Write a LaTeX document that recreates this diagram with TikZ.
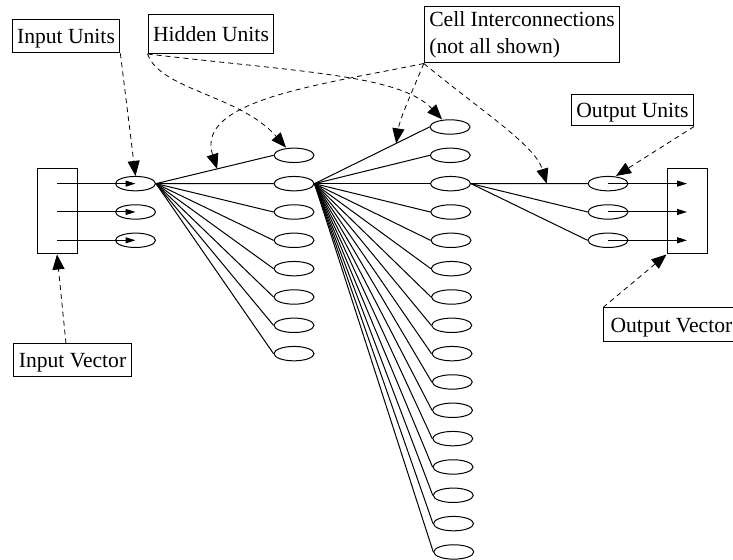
\documentclass[tikz,border=0pt]{standalone}
\usepackage{fontspec}
\setmainfont{Liberation Serif}
\usetikzlibrary{shapes.geometric,arrows.meta}
\begin{document}
\begin{tikzpicture}[x=0.5pt,y=-0.5pt,line width=0.5pt,
	unit/.style={draw,ellipse,minimum width=20pt,minimum height=7.2pt,inner sep=0pt},
	vecbox/.style={draw,minimum width=20pt,minimum height=42.5pt,inner sep=0pt},
	boxed/.style={draw,font=\fontsize{10.8}{13.5}\selectfont,inner xsep=2.5pt,inner ysep=0pt},
	tag/.style={boxed,text height=7.3pt,text depth=0pt,minimum height=16.5pt},
	callout/.style={dash pattern=on 2.5pt off 2pt,line width=0.4pt,-{Triangle[length=7.5pt,width=6pt]}},
	feed/.style={-{Triangle[length=5pt,width=3pt]}}]
	\useasboundingbox (0,0) rectangle (733,560);
	\clip (0,0) rectangle (733,560);
	
	\node[vecbox] (invec) at (57,211.5) {};
	\node[vecbox] (outvec) at (687,211.5) {};
	\foreach \i in {1,2,3} {
		\node[unit] (in\i) at (135.5,155.3+28.33*\i) {};
		\node[unit] (out\i) at (608,155.3+28.33*\i) {};
	}
	\foreach \i in {1,...,8}
		\node[unit] (hone\i) at (294,127+28.33*\i) {};
	\foreach \i in {1,...,16}
		\node[unit] (htwo\i) at (449.75+0.25*\i,98.67+28.33*\i) {};
	
	\foreach \i in {1,2,3} {
		\draw[feed] (invec.center |- in\i) -- (in\i.center);
		\draw[feed] (out\i.center) -- (outvec.center |- out\i);
		\draw (htwo3.east) -- (out\i.west);
	}
	\foreach \i in {1,...,8}
		\draw (in1.east) -- (hone\i.west);
	\foreach \i in {1,...,16}
		\draw (hone2.east) -- (htwo\i.west);
	
	\path (in1.east) -- (hone1.west) coordinate[pos=0.52] (tipa);
	\path (hone2.east) -- (htwo1.west) coordinate[pos=0.71] (tipb);
	\path (htwo3.east) -- (out1.west) coordinate[pos=0.65] (tipc);
	
	\node[tag] (inunits) at (66,36.5) {Input Units};
	\node[tag,minimum height=19.5pt] (hidunits) at (211,34) {Hidden Units};
	\node[boxed,align=left,minimum height=28pt] (cellint) at (522,35) {Cell Interconnections\\(not all shown)};
	\node[tag,minimum height=15.5pt] (outunits) at (632.5,110.5) {Output Units};
	\node[tag,minimum height=17pt,inner xsep=3.5pt,anchor=west] (outvector) at (603,325) {Output Vector};
	\node[tag] (invector) at (72.5,360.5) {Input Vector};
	
	\draw[callout] (inunits.south east) -- (in1.north);
	\draw[callout] (hidunits.south west) .. controls (160,90) and (240,95) .. ([xshift=-4pt]hone1.north);
	\draw[callout] (hidunits.south west) .. controls (300,72) and (400,75) .. ([xshift=-4pt]htwo1.north);
	\draw[callout] (cellint.south west) .. controls (320,85) and (195,100) .. (tipa);
	\draw[callout] (cellint.south west) .. controls (412,92) and (400,118) .. (tipb);
	\draw[callout] (cellint.south west) .. controls (480,110) and (535,145) .. (tipc);
	\draw[callout] (outunits.south east) -- ([xshift=4pt]out1.north);
	\draw[callout] (outvector.north west) -- (outvec.south west);
	\draw[callout] ([xshift=-3.25pt]invector.north) -- (invec.south);
\end{tikzpicture}
\end{document}
